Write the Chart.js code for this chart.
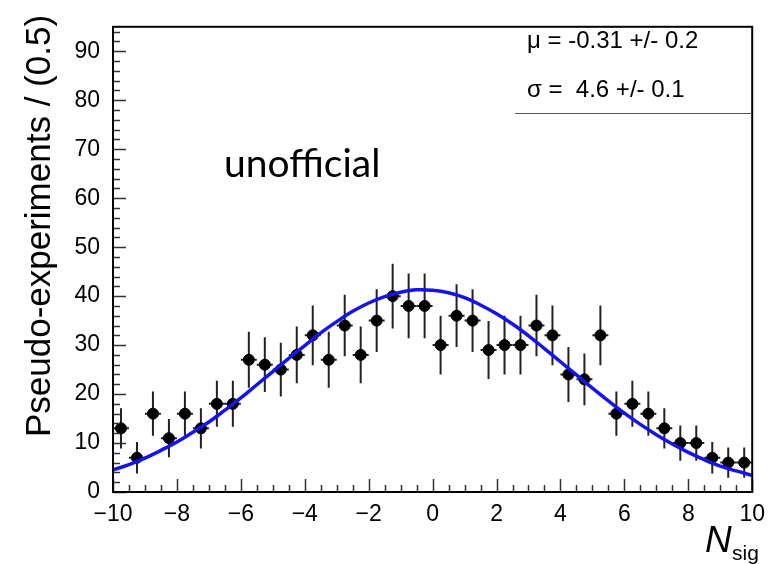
<!DOCTYPE html>
<html>
<head>
<meta charset="utf-8">
<script src="https://cdn.jsdelivr.net/npm/chart.js@4"></script>
<style>
  body { margin: 0; background: #fff; }
</style>
</head>
<body>
<canvas id="fitChart" width="774" height="564"></canvas>
<script>
// histogram bins (width 0.5)
const binCenters = [-9.75, -9.25, -8.75, -8.25, -7.75, -7.25, -6.75, -6.25, -5.75, -5.25,
                    -4.75, -4.25, -3.75, -3.25, -2.75, -2.25, -1.75, -1.25, -0.75, -0.25,
                     0.25,  0.75,  1.25,  1.75,  2.25,  2.75,  3.25,  3.75,  4.25,  4.75,
                     5.25,  5.75,  6.25,  6.75,  7.25,  7.75,  8.25,  8.75,  9.25,  9.75];
const counts = [13, 7, 16, 11, 16, 13, 18, 18, 27, 26,
                25, 28, 32, 27, 34, 28, 35, 40, 38, 38,
                30, 36, 35, 29, 30, 30, 34, 32, 24, 23,
                32, 16, 18, 16, 13, 10, 10, 7, 6, 6];
const errors = [4.1, 3.2, 4.5, 3.9, 4.5, 4.1, 4.7, 4.7, 5.7, 5.6,
                5.5, 5.8, 6.1, 5.7, 6.3, 5.8, 6.4, 6.6, 6.6, 6.6,
                6.0, 6.4, 6.4, 5.9, 6.0, 6.0, 6.3, 6.1, 5.6, 5.3,
                6.1, 4.5, 4.7, 4.5, 4.1, 3.6, 3.6, 3.2, 3.1, 3.1];

// gaussian fit curve, sampled every 0.5
const fitX = [-10, -9.5, -9, -8.5, -8, -7.5, -7, -6.5, -6, -5.5, -5, -4.5, -4, -3.5, -3, -2.5, -2,
              -1.5, -1, -0.5, 0, 0.5, 1, 1.5, 2, 2.5, 3, 3.5, 4, 4.5, 5, 5.5, 6, 6.5, 7, 7.5, 8,
              8.5, 9, 9.5, 10];
const fitY = [4.5, 5.6, 6.9, 8.5, 10.2, 12.2, 14.3, 16.7, 19.2, 21.9, 24.6, 27.3, 29.9, 32.5, 34.8,
              36.9, 38.6, 39.9, 40.8, 41.3, 41.2, 40.7, 39.7, 38.2, 36.4, 34.3, 31.9, 29.3, 26.6,
              23.9, 21.2, 18.6, 16.1, 13.8, 11.7, 9.8, 8.1, 6.6, 5.3, 4.3, 3.4];

const xTicks = [-10, -8, -6, -4, -2, 0, 2, 4, 6, 8, 10];
const yTicks = [0, 10, 20, 30, 40, 50, 60, 70, 80, 90];

const fitText = ['\u03bc = -0.31 +/- 0.2', '\u03c3 =  4.6 +/- 0.1'];

const rootStyle = {
  id: 'rootStyle',
  beforeDatasetsDraw(chart) {
    const { ctx, scales: { x, y } } = chart;
    ctx.save();
    ctx.lineWidth = 2;
    ctx.strokeStyle = '#222';
    binCenters.forEach((c, i) => {
      const px = x.getPixelForValue(c);
      const py = y.getPixelForValue(counts[i]);
      ctx.beginPath();
      ctx.moveTo(x.getPixelForValue(c - 0.25), py);
      ctx.lineTo(x.getPixelForValue(c + 0.25), py);
      ctx.moveTo(px, y.getPixelForValue(counts[i] + errors[i]));
      ctx.lineTo(px, y.getPixelForValue(counts[i] - errors[i]));
      ctx.stroke();
    });
    ctx.restore();
  },
  afterDraw(chart) {
    const { ctx, chartArea: a, scales: { x, y } } = chart;
    ctx.save();
    // ticks inside the frame, ROOT style
    ctx.strokeStyle = '#333';
    ctx.lineWidth = 1.5;
    ctx.beginPath();
    for (let v = 0; v <= 94; v += 2) {
      const py = Math.round(y.getPixelForValue(v)) + 0.5;
      const len = v % 10 === 0 ? 13 : 7;
      ctx.moveTo(a.left, py);
      ctx.lineTo(a.left + len, py);
    }
    for (let v = -10; v <= 10; v += 0.5) {
      const px = Math.round(x.getPixelForValue(v)) + 0.5;
      const len = v % 2 === 0 ? 13 : 7;
      ctx.moveTo(px, a.bottom);
      ctx.lineTo(px, a.bottom - len);
    }
    ctx.stroke();

    // frame
    ctx.strokeStyle = '#000';
    ctx.lineWidth = 2;
    ctx.strokeRect(a.left, a.top, a.right - a.left, a.bottom - a.top);

    // fit stats box
    ctx.fillStyle = '#000';
    ctx.font = '24px "Liberation Sans", Arial, sans-serif';
    ctx.textBaseline = 'middle';
    ctx.textAlign = 'left';
    ctx.fillText(fitText[0], 527, 41);
    ctx.fillText(fitText[1], 527, 90);
    ctx.strokeStyle = '#555';
    ctx.lineWidth = 1;
    ctx.beginPath();
    ctx.moveTo(515, 113.5);
    ctx.lineTo(a.right, 113.5);
    ctx.stroke();

    // watermark
    ctx.textBaseline = 'alphabetic';
    ctx.font = '39px Lato, "Open Sans", sans-serif';
    ctx.fillText('unofficial', 224, 177);

    // axis titles
    ctx.font = 'italic 37px "Liberation Sans", Arial, sans-serif';
    ctx.fillText('N', 705, 552);
    ctx.font = '21px "Liberation Sans", Arial, sans-serif';
    ctx.fillText('sig', 732, 560);

    ctx.translate(50, 226);
    ctx.rotate(-Math.PI / 2);
    ctx.textAlign = 'center';
    ctx.font = '35px "Liberation Sans", Arial, sans-serif';
    ctx.fillText('Pseudo-experiments / (0.5)', 0, 0);
    ctx.restore();
  }
};

const ctx = document.getElementById('fitChart').getContext('2d');
new Chart(ctx, {
  type: 'scatter',
  data: {
    datasets: [
      {
        label: 'fit',
        data: fitX.map((v, i) => ({ x: v, y: fitY[i] })),
        showLine: true,
        borderColor: 'rgb(20, 20, 235)',
        borderWidth: 3.5,
        pointRadius: 0,
        tension: 0.4,
        fill: false,
        order: 0
      },
      {
        label: 'pseudo-experiments',
        data: binCenters.map((v, i) => ({ x: v, y: counts[i] })),
        backgroundColor: '#000',
        borderColor: '#000',
        pointRadius: 5.5,
        pointHoverRadius: 5.5,
        order: 1
      }
    ]
  },
  options: {
    responsive: false,
    animation: false,
    layout: { padding: { top: 14, right: 16, left: 0, bottom: 0 } },
    plugins: {
      legend: { display: false },
      tooltip: { enabled: false }
    },
    scales: {
      x: {
        type: 'linear',
        min: -10,
        max: 10,
        afterFit: s => { s.height = 72; },
        afterBuildTicks: s => { s.ticks = xTicks.map(v => ({ value: v })); },
        grid: { display: false, drawTicks: false },
        border: { display: false },
        ticks: {
          padding: 9,
          color: '#000',
          font: { family: '"Liberation Sans", Arial, sans-serif', size: 23 },
          callback: v => String(v).replace('-', '\u2212'),
          maxRotation: 0
        }
      },
      y: {
        min: 0,
        max: 95,
        afterFit: s => { s.width = 113; },
        afterBuildTicks: s => { s.ticks = yTicks.map(v => ({ value: v })); },
        grid: { display: false, drawTicks: false },
        border: { display: false },
        ticks: {
          padding: 13,
          color: '#000',
          font: { family: '"Liberation Sans", Arial, sans-serif', size: 23 }
        }
      }
    }
  },
  plugins: [rootStyle]
});
</script>
</body>
</html>
